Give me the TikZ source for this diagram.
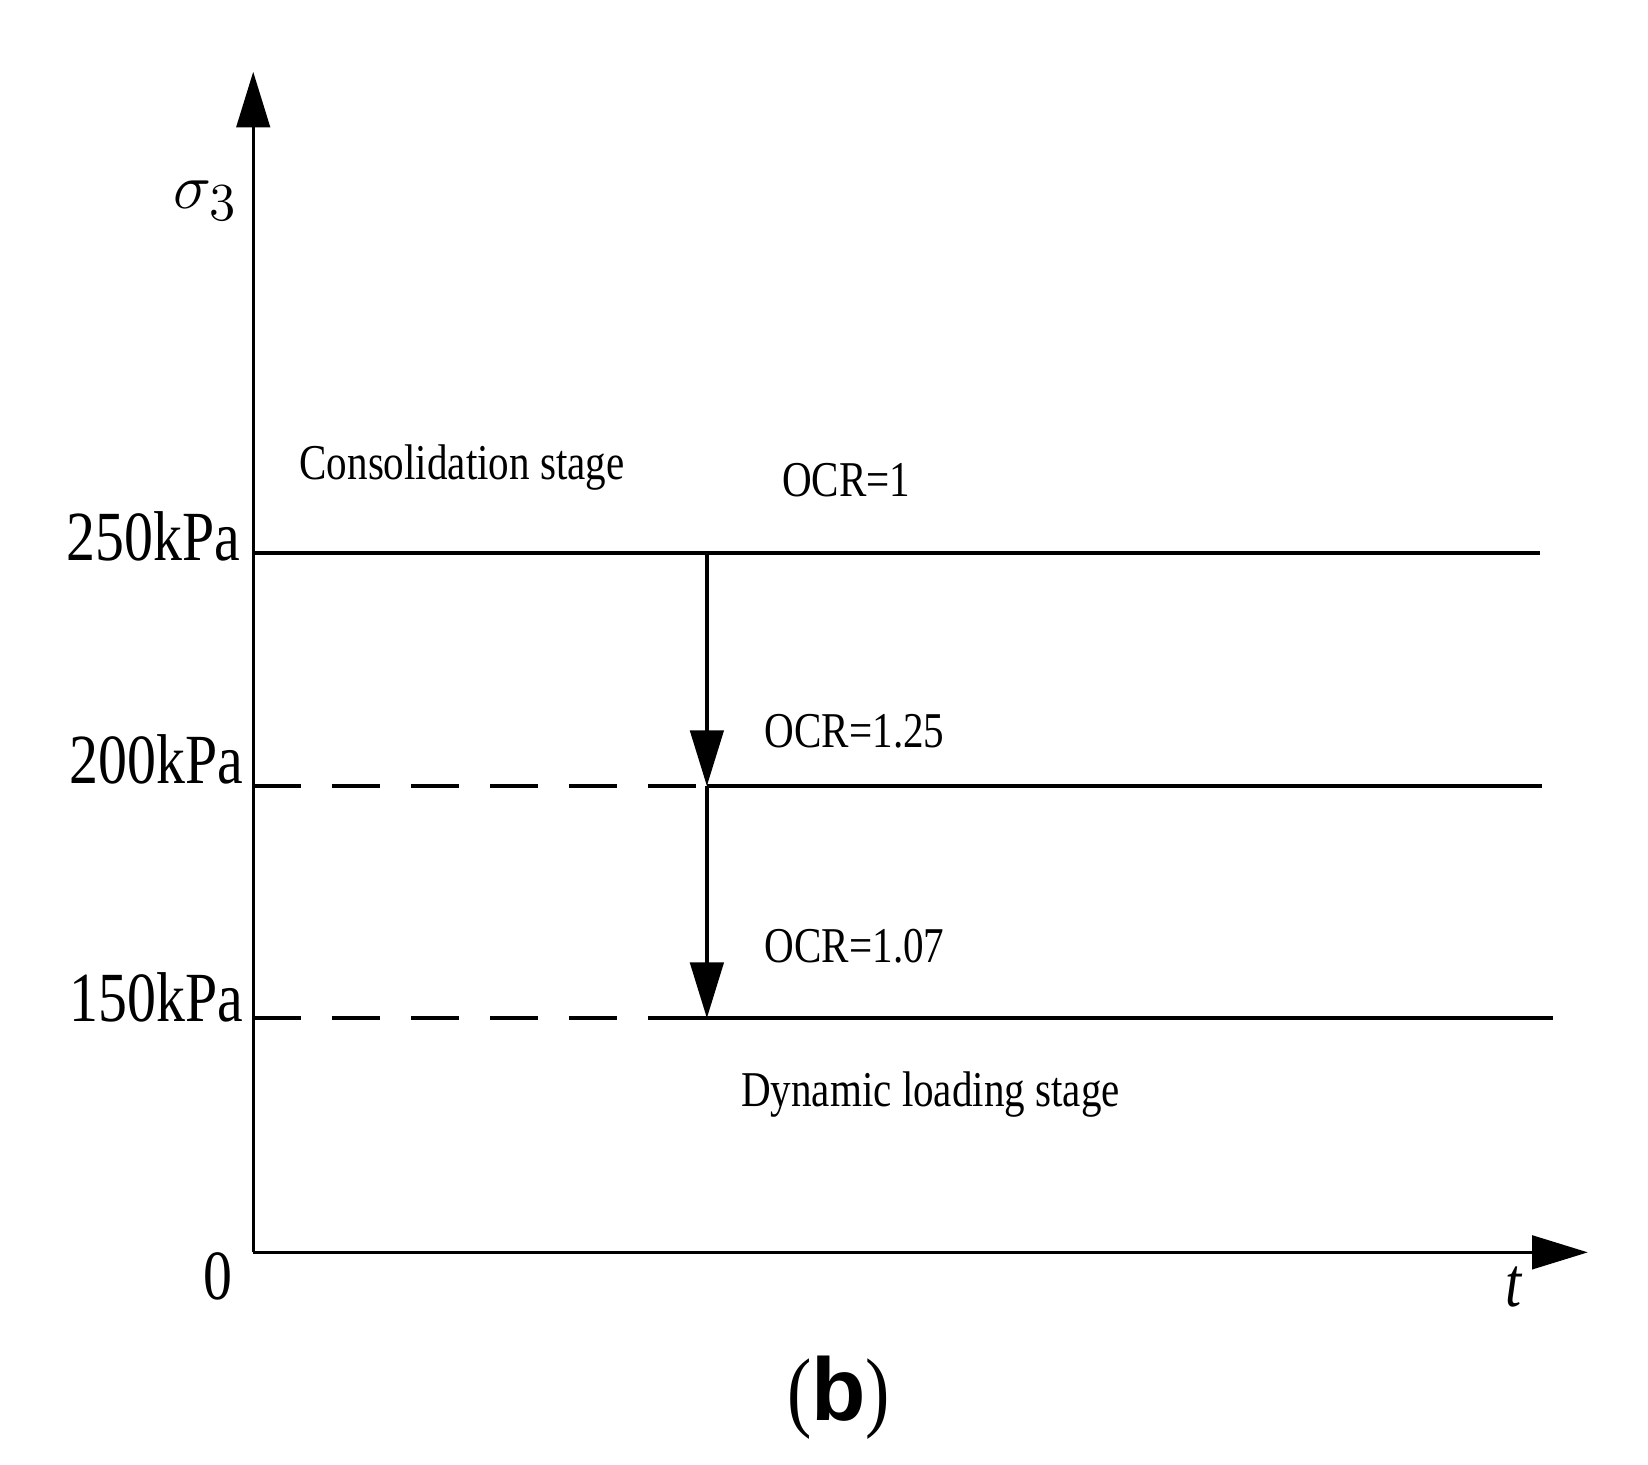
\documentclass[tikz,border=0pt]{standalone}
\usepackage{fontspec}
\setmainfont{Liberation Serif}[FakeStretch=0.82]
\newfontfamily\bsans{Liberation Sans}
\usetikzlibrary{arrows.meta}
\begin{document}
\begin{tikzpicture}[x=0.01cm,y=-0.01cm,
  ln/.style={line width=0.9pt},
  dsh/.style={line width=0.9pt,dash pattern=on 12.8pt off 8.5pt},
  tip/.style={-{Triangle[length=15pt,width=9pt]}},
  big/.style={font=\fontsize{19}{22}\selectfont,inner sep=0pt},
  small/.style={font=\fontsize{13.5}{16}\selectfont,inner sep=0pt}]
\useasboundingbox (0,0) rectangle (1562,1388);
\coordinate (O) at (240,1187);
\coordinate (Ytop) at (240,68);
\coordinate (Xend) at (1505,1187);
\draw[ln,tip] (O) -- (Ytop);
\draw[ln,tip] (O) -- (Xend);
\coordinate (a1) at (240,524); \coordinate (a2) at (1460,524);
\coordinate (b1) at (240,745); \coordinate (bm) at (670,745); \coordinate (b2) at (1462,745);
\coordinate (c1) at (240,965); \coordinate (cm) at (660,965); \coordinate (c2) at (1472,965);
\coordinate (v1) at (670,524); \coordinate (v3) at (670,965);
\draw[ln] (a1) -- (a2);
\draw[dsh] (b1) -- (bm); \draw[ln] (bm) -- (b2);
\draw[dsh] (c1) -- (cm); \draw[ln] (cm) -- (c2);
\draw[ln,tip] (v1) -- (bm);
\draw[ln,tip] (bm) -- (v3);
\node[big] (sig) at (195,190) {$\sigma_3$};
\node[big,anchor=east] (l250) at (228,508) {250kPa};
\node[big,anchor=east] (l200) at (231,720) {200kPa};
\node[big,anchor=east] (l150) at (231,945) {150kPa};
\node[big] (zero) at (207,1210) {0};
\node[big] (t) at (1435,1220) {\itshape t};
\node[small] (cons) at (438,443) {Consolidation stage};
\node[small] (o1) at (802,455) {OCR=1};
\node[small] (o2) at (810,693) {OCR=1.25};
\node[small] (o3) at (810,897) {OCR=1.07};
\node[small] (dyn) at (882,1037) {Dynamic loading stage};
\node[inner sep=0pt,font=\fontsize{24}{28}\selectfont] (b) at (795,1325) {(\textbf{\bsans b})};
\end{tikzpicture}
\end{document}
